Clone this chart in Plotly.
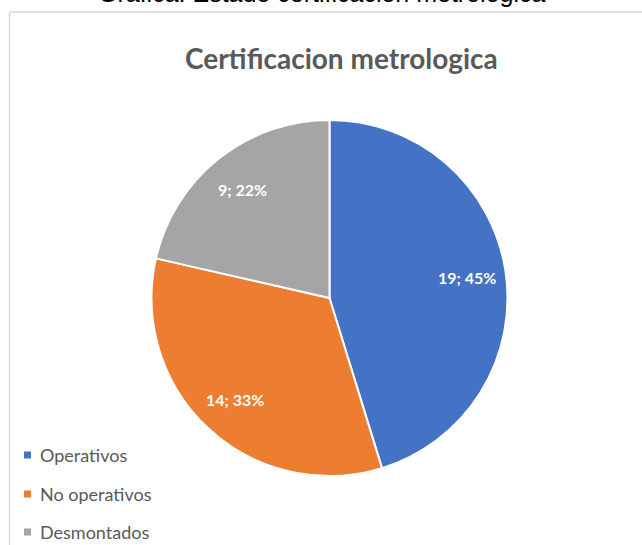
import numpy as np
import plotly.graph_objects as go

W, H = 642, 545

categories = ["Operativos", "No operativos", "Desmontados"]
values = [19, 14, 9]
percent_labels = ["45%", "33%", "22%"]
colors = ["#4472C4", "#ED7D31", "#A5A5A5"]

outer_title = "Gráfica: Estado certificación metrológica"
chart_title = "Certificacion metrologica"

def px(x):
    return x / W

def py(y):
    return 1 - y / H

cx, cy, r = 329.5, 298, 178

fig = go.Figure()
fig.add_trace(go.Pie(
    labels=categories,
    values=values,
    customdata=percent_labels,
    textinfo="none",
    marker=dict(colors=colors, line=dict(color="white", width=2)),
    sort=False,
    direction="clockwise",
    rotation=0,
    showlegend=False,
    hoverinfo="label+value+percent",
    domain=dict(x=[px(cx - r), px(cx + r)], y=[py(cy + r), py(cy - r)]),
))

annotations = [
    dict(text=outer_title, x=px(322), y=py(-7), xref="paper", yref="paper",
         xanchor="center", yanchor="middle", showarrow=False,
         font=dict(family="Liberation Sans, Arial", size=25, color="#000000")),
    dict(text=chart_title, x=px(341), y=py(58), xref="paper", yref="paper",
         xanchor="center", yanchor="middle", showarrow=False,
         font=dict(family="Lato", size=28, color="#595959", weight="bold")),
]

# data labels placed along each slice's mid-angle (computed from values)
vals = np.array(values, dtype=float)
frac = vals / vals.sum()
mid = (np.cumsum(frac) - frac / 2) * 2 * np.pi
label_r = 0.78 * r
for v, pl, a in zip(values, percent_labels, mid):
    lx = cx + label_r * np.sin(a)
    ly = cy - label_r * np.cos(a)
    annotations.append(dict(text=f"{v}; {pl}", x=px(lx), y=py(ly),
                            xref="paper", yref="paper", xanchor="center",
                            yanchor="middle", showarrow=False,
                            font=dict(family="Lato", size=16, color="white",
                                      weight="bold")))

shapes = [
    dict(type="line", xref="paper", yref="paper", x0=px(9.5), x1=px(W + 5),
         y0=py(12), y1=py(12), line=dict(color="#D9D9D9", width=1.5)),
    dict(type="line", xref="paper", yref="paper", x0=px(9.5), x1=px(9.5),
         y0=py(12), y1=py(H + 5), line=dict(color="#D9D9D9", width=1.5)),
]

legend_y = [455, 494, 532]
for name, col, ly in zip(categories, colors, legend_y):
    shapes.append(dict(type="rect", xref="paper", yref="paper",
                       x0=px(24), x1=px(31), y0=py(ly - 3.5), y1=py(ly + 3.5),
                       fillcolor=col, line=dict(width=0)))
    annotations.append(dict(text=name, x=px(38), y=py(ly), xref="paper", yref="paper",
                            xanchor="left", yanchor="middle", showarrow=False,
                            font=dict(family="Lato", size=18, color="#595959")))

fig.update_layout(
    width=W, height=H,
    margin=dict(l=0, r=0, t=0, b=0),
    paper_bgcolor="white",
    plot_bgcolor="white",
    annotations=annotations,
    shapes=shapes,
)

fig.write_html(
    "out.html",
    config={"displayModeBar": False},
    post_script="document.body.style.margin='0';document.body.style.overflow='hidden';",
)
